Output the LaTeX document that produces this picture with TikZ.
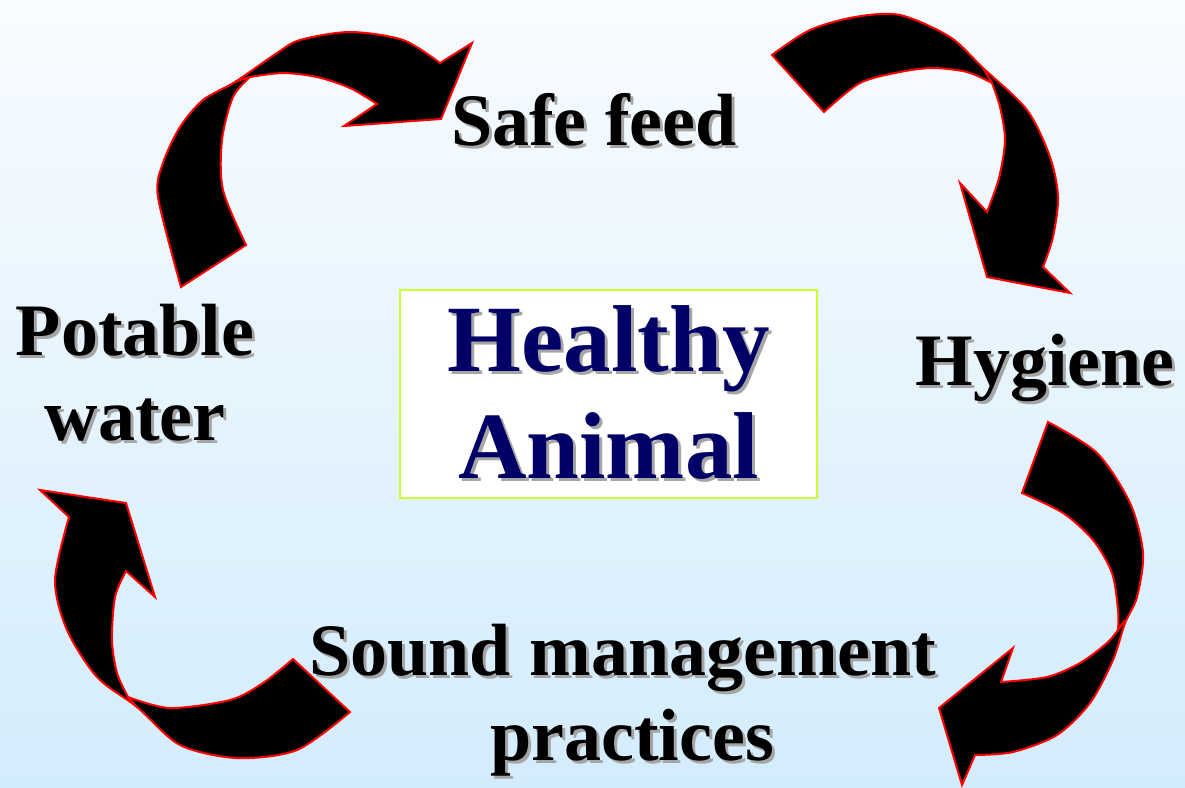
\documentclass[tikz,border=0pt]{standalone}
\usepackage{fontspec}
\setmainfont{Liberation Serif}
\usepackage{tikz}

\definecolor{bgtop}{RGB}{248,252,255}
\definecolor{bgbottom}{RGB}{211,236,252}
\definecolor{navytext}{RGB}{0,0,102}
\definecolor{limeborder}{RGB}{204,255,51}
\definecolor{shadowgray}{RGB}{165,165,165}

\newcommand{\shadowed}[1]{\leavevmode\rlap{\hspace{3pt}\raisebox{-3pt}{\textcolor{shadowgray}{#1}}}#1}

\begin{document}
\begin{tikzpicture}[x=1pt, y=-1pt,
    bigarrow/.style={fill=black, draw=red, line width=2pt},
    crease/.style={draw=red, line width=2pt},
    cyclelabel/.style={inner sep=0pt, align=center, anchor=base,
        font=\fontsize{74}{85}\selectfont\bfseries},
    centerbox/.style={draw=limeborder, line width=2pt, fill=white,
        minimum width=417pt, minimum height=208pt, inner sep=0pt,
        align=center, text=navytext,
        font=\fontsize{95}{107}\selectfont\bfseries}]

\useasboundingbox (0,0) rectangle (1185,787);
\shade[top color=bgtop, bottom color=bgbottom] (0,0) rectangle (1185,787);

    %arrow potable water -> safe feed
    \filldraw[bigarrow] (181,287)
        -- plot[smooth] coordinates {(181,287) (158,197) (163,163) (180,127) (203,100) (235,82) (277,53) (300,40) (350,32) (403,40) (440,63)}
        -- (472,43) -- (441,119) -- (344,126) -- (377,104)
        -- plot[smooth] coordinates {(377,104) (350,88) (317,77) (283,73) (250,77)}
        -- plot[smooth] coordinates {(250,77) (233,97) (222,140) (223,190) (246,245)}
        -- cycle;
    \draw[crease] (250,77) -- (235,82);

    %arrow safe feed -> hygiene
    \filldraw[bigarrow] (772,55)
        -- plot[smooth] coordinates {(772,55) (810,30) (855,17) (900,15) (950,37) (983,68) (1027,110) (1050,157) (1058,197) (1053,237) (1043,267)}
        -- (1070,293) -- (987,277) -- (960,183) -- (987,212)
        -- plot[smooth] coordinates {(987,212) (999,178) (1005,140) (1000,107) (992,83)}
        -- plot[smooth] coordinates {(992,83) (967,72) (933,68) (900,72) (860,83) (824,112)}
        -- cycle;
    \draw[crease] (992,83) -- (983,68);

    %arrow hygiene -> sound management
    \filldraw[bigarrow] (1048,422)
        -- plot[smooth] coordinates {(1048,422) (1097,453) (1130,503) (1143,553) (1137,597) (1125,623) (1113,660) (1090,703) (1057,735) (1013,752) (975,755)}
        -- (962,785) -- (939,708) -- (1013,648) -- (1001,682)
        -- plot[smooth] coordinates {(1001,682) (1047,677) (1080,663) (1107,643) (1118,630)}
        -- plot[smooth] coordinates {(1118,630) (1118,610) (1112,573) (1093,540) (1063,513) (1022,493)}
        -- cycle;
    \draw[crease] (1118,630) -- (1125,620);

    %arrow sound management -> potable water
    \filldraw[bigarrow] (350,712)
        -- plot[smooth] coordinates {(350,712) (297,750) (237,758) (180,745) (137,707) (97,677) (67,630) (55,580) (69,517)}
        -- (40,490) -- (126,503) -- (155,597) -- (126,571)
        -- plot[smooth] coordinates {(126,571) (115,597) (112,640) (117,673) (128,697)}
        -- plot[smooth] coordinates {(128,697) (170,708) (230,700) (263,683) (293,659)}
        -- cycle;
    \draw[crease] (128,697) -- (137,707);

    %labels (base = last line)
    \node[centerbox] (healthy) at (608.5,394) {\shadowed{Healthy}\\\shadowed{Animal}};
    \node[cyclelabel] (feed) at (594,145) {\shadowed{Safe feed}};
    \node[cyclelabel] (hygiene) at (1045,385) {\shadowed{Hygiene}};
    \node[cyclelabel] (water) at (135,440) {\shadowed{Potable}\\\shadowed{water}};
    \node[cyclelabel] (sound) at (632,760) {\shadowed{Sound management}\hspace*{18pt}\\\shadowed{practices}};
\end{tikzpicture}
\end{document}
